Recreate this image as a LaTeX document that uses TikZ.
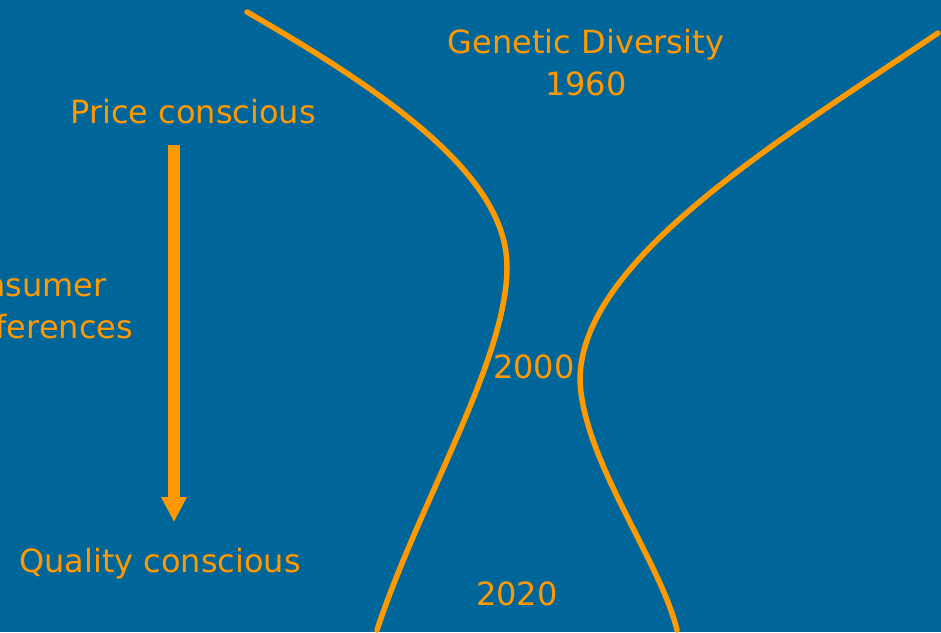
\documentclass[tikz,border=0pt]{standalone}
\usepackage{fontspec}
\setmainfont{DejaVu Sans}
\usetikzlibrary{arrows.meta}
\definecolor{slideblue}{RGB}{0, 102, 153}
\definecolor{slideorange}{RGB}{255, 153, 0}

\begin{document}
\begin{tikzpicture}[x=1pt, y=-1pt,
    txt/.style={text=slideorange, font=\fontsize{32}{42}\selectfont, inner sep=0pt},
    funnel/.style={slideorange, line width=5.5pt, line cap=round}]
    % Background
    \useasboundingbox (0,0) rectangle (941,632);
    \clip (0,0) rectangle (941,632);
    \fill[slideblue] (0,0) rectangle (941,632);
    
    % Funnel walls
    \draw[funnel] (247,12) .. controls (400,100) and (507,180) .. (507,267)
        .. controls (507,360) and (420,500) .. (377,630);
    \draw[funnel] (938,33) .. controls (780,140) and (580,260) .. (580,380)
        .. controls (583,460) and (660,560) .. (677,630);
    
    % Labels
    \node[txt, align=center, anchor=base] (genetic) at (586,95) {Genetic Diversity\\1960};
    \node[txt, anchor=base] (price) at (193,123) {Price conscious};
    \node[txt, align=left, anchor=base west] (consumer) at (-57,338) {Consumer\\preferences};
    \node[txt, anchor=base] (yr2000) at (534,378) {2000};
    \node[txt, anchor=base] (quality) at (160,572) {Quality conscious};
    \node[txt, anchor=base] (yr2020) at (517,605) {2020};
    
    % Preference arrow
    \coordinate (arrtop) at (174,145);
    \coordinate (arrbot) at (174,522);
    \draw[-{Triangle[width=24pt, length=25pt]}, slideorange, line width=12pt] (arrtop) -- (arrbot);
\end{tikzpicture}
\end{document}
